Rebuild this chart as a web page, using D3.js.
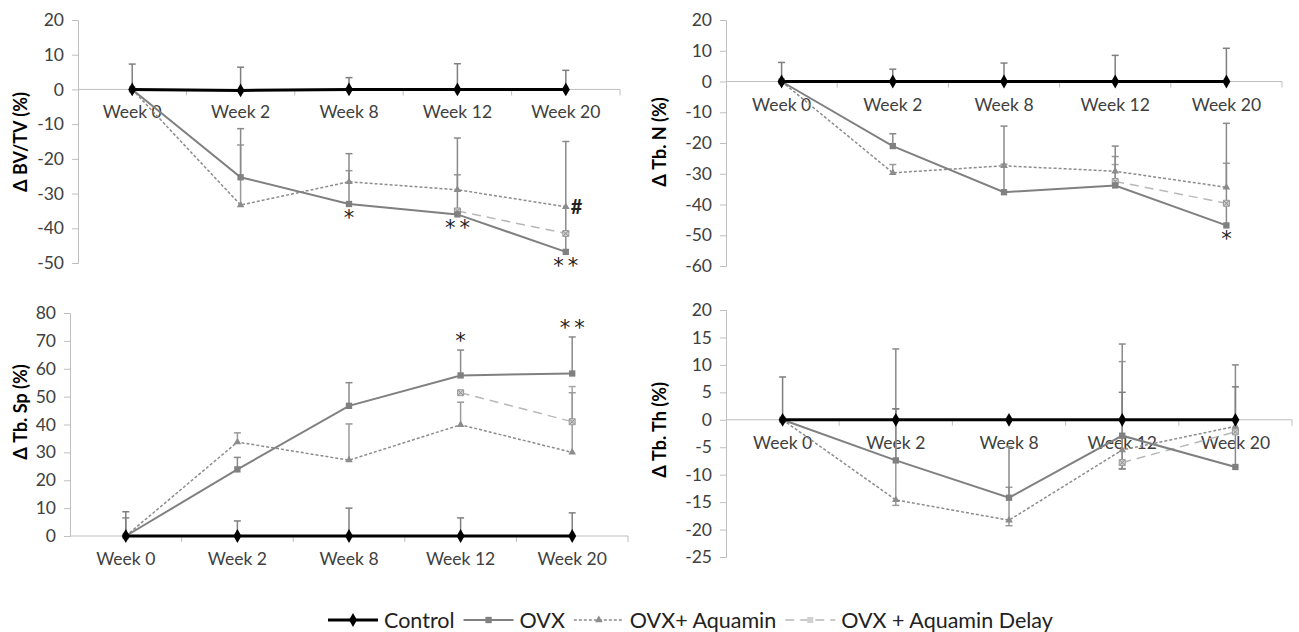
<!DOCTYPE html>
<html>
<head>
<meta charset="utf-8">
<script src="https://cdn.jsdelivr.net/npm/d3@7"></script>
<style>
body { margin: 0; background: #fff; }
text { font-family: Lato, "Liberation Sans", sans-serif; }
</style>
</head>
<body>
<svg id="chart" width="1299" height="632"></svg>
<script>
// categories
var weeks = ["Week 0", "Week 2", "Week 8", "Week 12", "Week 20"];

// Δ BV/TV (%)
var bvControl = [0, -0.3, 0, 0, 0];
var bvControlErr = [7.3, 6.7, 3.4, 7.4, 5.5];
var bvOvx = [0, -25.3, -33, -36, -46.8];
var bvOvxErr = [0, 14, 14.5, 22, 31.8];
var bvAqu = [0, -33.3, -26.6, -28.9, -33.8];
var bvAquErr = [0, 17.3, 3.2, 4.3, 0];
var bvDelay = [null, null, null, -35, -41.5];
var bvDelayErr = [0, 0, 0, 0.5, 0.5];

// Δ Tb. N (%)
var nControl = [0, 0, 0, 0, 0];
var nControlErr = [6.2, 4, 6, 8.5, 10.8];
var nOvx = [0, -21, -36, -33.8, -46.8];
var nOvxErr = [0, 4, 21.5, 12.8, 33.2];
var nAqu = [0, -29.7, -27.4, -29.2, -34.4];
var nAquErr = [0, 2.7, 0.5, 4.8, 7.8];
var nDelay = [null, null, null, -32.5, -39.6];
var nDelayErr = [0, 0, 0, 5.5, 0.5];

// Δ Tb. Sp (%)
var spControl = [0, 0, 0, 0, 0];
var spControlErr = [8.7, 5.4, 10, 6.5, 8.3];
var spOvx = [0, 23.9, 46.7, 57.6, 58.3];
var spOvxErr = [6.5, 4.3, 8.3, 9.1, 13.1];
var spAqu = [0, 33.7, 27.2, 39.9, 30];
var spAquErr = [0, 3.3, 13, 8.1, 21.4];
var spDelay = [null, null, null, 51.4, 41];
var spDelayErr = [0, 0, 0, 0.5, 12.6];

// Δ Tb. Th (%)
var thControl = [0, 0, 0, 0, 0];
var thControlErr = [7.8, 2, 0, 5, 6];
var thOvx = [0, -7.4, -14.2, -2.9, -8.6];
var thOvxErr = [0, 20.3, 9.3, 16.7, 18.6];
var thOvxLow = [0, 0, 0, 6, 0];
var thAqu = [0, -14.6, -18.3, -5.5, -1.2];
var thAquErr = [0, 16.6, 6, 16.1, 0];
var thAquLow = [0, 1, 1, 3.5, 1];
var thDelay = [null, null, null, -7.8, -2.2];
var thDelayErr = [0, 0, 0, 0, 0.5];

// significance marks: [week, text, value, placement]
var bvMarks = [["Week 8", "*", -33, "below"], ["Week 12", "**", -36, "below"],
               ["Week 20", "**", -46.8, "below"], ["Week 20", "#", -33.8, "right"]];
var nMarks = [["Week 20", "*", -46.8, "below"]];
var spMarks = [["Week 12", "*", 66.7, "above"], ["Week 20", "**", 71.4, "above"]];
var thMarks = [];

var groups = ["Control", "OVX", "OVX+ Aquamin", "OVX + Aquamin Delay"];

var styles = {
    "Control": {color: "#000", width: 3, dash: null, sym: d3.symbolDiamond, size: 55, err: "#7f7f7f"},
    "OVX": {color: "#808080", width: 2, dash: null, sym: d3.symbolSquare, size: 40, err: "#8a8a8a"},
    "OVX+ Aquamin": {color: "#8c8c8c", width: 1.5, dash: "3,2", sym: d3.symbolTriangle, size: 25, err: "#9a9a9a"},
    "OVX + Aquamin Delay": {color: "#b8b8b8", width: 1.5, dash: "9,6", sym: d3.symbolSquare, size: 36, err: "#a8a8a8"}
};

var svg = d3.select("#chart");

function panel(cfg) {
    var x = d3.scaleBand().domain(weeks).range([cfg.x0, cfg.x1]);
    var y = d3.scaleLinear().domain(cfg.domain).range([cfg.yb, cfg.yt]);
    var g = svg.append("g");

    // y axis
    var yAxis = g.append("g")
        .attr("transform", "translate(" + cfg.x0 + ",0)")
        .call(d3.axisLeft(y)
            .tickValues(d3.range(cfg.domain[0], cfg.domain[1] + 0.1, cfg.step))
            .tickFormat(function(d) { return String(d); })
            .tickSize(6).tickPadding(8));
    yAxis.select(".domain").attr("stroke", "#bfbfbf");
    yAxis.selectAll(".tick line").attr("stroke", "#bfbfbf");
    yAxis.selectAll("text").attr("fill", "#404040").style("font-size", "17.5px");

    // x axis at zero
    var y0 = y(0);
    g.append("line").attr("x1", cfg.x0).attr("x2", cfg.x1).attr("y1", y0).attr("y2", y0)
        .attr("stroke", "#bfbfbf");
    var bounds = weeks.map(function(w) { return x(w); }).concat([cfg.x1]).slice(1);
    g.selectAll(".xtick").data(bounds).enter().append("line")
        .attr("x1", function(d) { return d; }).attr("x2", function(d) { return d; })
        .attr("y1", y0).attr("y2", y0 + 6).attr("stroke", "#bfbfbf");
    g.selectAll(".xlab").data(weeks).enter().append("text")
        .attr("x", function(d) { return x(d) + x.bandwidth() / 2; })
        .attr("y", y0 + 29)
        .attr("text-anchor", "middle")
        .attr("fill", "#404040")
        .style("font-size", "17.5px")
        .text(function(d) { return d; });

    // y title
    g.append("text")
        .attr("transform", "translate(" + cfg.tx + "," + cfg.ty + ") rotate(-90)")
        .attr("text-anchor", "middle")
        .style("font-size", "18px").style("font-weight", "bold")
        .text(cfg.title);

    var cx = function(i) { return x(weeks[i]) + x.bandwidth() / 2; };
    var order = ["OVX + Aquamin Delay", "OVX+ Aquamin", "OVX", "Control"];

    // error bars first
    order.forEach(function(name) {
        var s = cfg.series[name], st = styles[name];
        s.vals.forEach(function(v, i) {
            if (v === null) return;
            var hi = s.err[i] || 0, lo = s.low ? s.low[i] : 0;
            if (!hi && !lo) return;
            g.append("line").attr("x1", cx(i)).attr("x2", cx(i)).attr("y1", y(v + hi)).attr("y2", y(v - lo))
                .attr("stroke", st.err).attr("stroke-width", 1.5);
            [hi ? v + hi : null, lo ? v - lo : null].forEach(function(e) {
                if (e === null) return;
                g.append("line").attr("x1", cx(i) - 3.5).attr("x2", cx(i) + 3.5)
                    .attr("y1", y(e)).attr("y2", y(e))
                    .attr("stroke", st.err).attr("stroke-width", 1.5);
            });
        });
    });

    order.forEach(function(name) {
        var s = cfg.series[name], st = styles[name];
        var pts = s.vals.map(function(v, i) { return [i, v]; }).filter(function(p) { return p[1] !== null; });
        var line = d3.line().x(function(p) { return cx(p[0]); }).y(function(p) { return y(p[1]); });
        g.append("path").datum(pts).attr("d", line)
            .attr("fill", "none").attr("stroke", st.color).attr("stroke-width", st.width)
            .attr("stroke-dasharray", st.dash);
        g.selectAll(null).data(pts).enter().append("path")
            .attr("transform", function(p) { return "translate(" + cx(p[0]) + "," + y(p[1]) + ")"; })
            .attr("d", d3.symbol().type(st.sym).size(st.size))
            .attr("fill", name === "OVX + Aquamin Delay" ? "#d0d0d0" : st.color)
            .attr("stroke", name === "OVX + Aquamin Delay" ? "#9a9a9a" : "none");
        if (name === "OVX + Aquamin Delay") {
            g.selectAll(null).data(pts).enter().append("path")
                .attr("transform", function(p) { return "translate(" + cx(p[0]) + "," + y(p[1]) + ")"; })
                .attr("d", d3.symbol().type(d3.symbolX).size(18))
                .attr("fill", "none").attr("stroke", "#8a8a8a").attr("stroke-width", 1);
        }
    });

    // significance marks
    cfg.marks.forEach(function(m) {
        var i = weeks.indexOf(m[0]);
        var px = cx(i), py = y(m[2]);
        var t = g.append("text").attr("fill", "#222").text(m[1]);
        if (m[1] === "#") {
            t.attr("x", px + 5).attr("y", py + 7).attr("text-anchor", "start")
                .style("font-size", "20px").style("font-weight", "bold");
            return;
        }
        t.style("font-family", "'DejaVu Sans', sans-serif").style("font-size", "21px")
            .attr("text-anchor", "middle").attr("x", px + (m[1].length > 1 ? 2 : 0))
            .style("letter-spacing", m[1].length > 1 ? "4px" : "0px");
        if (m[3] === "below") t.attr("y", py + 21);
        else t.attr("y", py - 2);
    });
}

function ser(c, ce, o, oe, a, ae, d, de, ol, al) {
    var r = {};
    r["Control"] = {vals: c, err: ce};
    r["OVX"] = {vals: o, err: oe, low: ol};
    r["OVX+ Aquamin"] = {vals: a, err: ae, low: al};
    r["OVX + Aquamin Delay"] = {vals: d, err: de};
    return r;
}

panel({x0: 78, x1: 620, yt: 20, yb: 263, domain: [-50, 20], step: 10, title: "Δ BV/TV (%)", tx: 27, ty: 142,
    series: ser(bvControl, bvControlErr, bvOvx, bvOvxErr, bvAqu, bvAquErr, bvDelay, bvDelayErr), marks: bvMarks});
panel({x0: 726, x1: 1282, yt: 20, yb: 266, domain: [-60, 20], step: 10, title: "Δ Tb. N (%)", tx: 666, ty: 142,
    series: ser(nControl, nControlErr, nOvx, nOvxErr, nAqu, nAquErr, nDelay, nDelayErr), marks: nMarks});
panel({x0: 70, x1: 628, yt: 313, yb: 536, domain: [0, 80], step: 10, title: "Δ Tb. Sp (%)", tx: 27, ty: 412,
    series: ser(spControl, spControlErr, spOvx, spOvxErr, spAqu, spAquErr, spDelay, spDelayErr), marks: spMarks});
panel({x0: 726, x1: 1292, yt: 310, yb: 557, domain: [-25, 20], step: 5, title: "Δ Tb. Th (%)", tx: 666, ty: 430,
    series: ser(thControl, thControlErr, thOvx, thOvxErr, thAqu, thAquErr, thDelay, thDelayErr, thOvxLow, thAquLow), marks: thMarks});

// legend
var legend = svg.append("g").attr("transform", "translate(0,620)");
var lx = 328;
groups.forEach(function(name) {
    var st = styles[name];
    var item = legend.append("g");
    item.append("line").attr("x1", lx).attr("x2", lx + 50).attr("y1", 0).attr("y2", 0)
        .attr("stroke", st.color).attr("stroke-width", st.width).attr("stroke-dasharray", st.dash);
    item.append("path").attr("transform", "translate(" + (lx + 25) + ",0)")
        .attr("d", d3.symbol().type(st.sym).size(st.size))
        .attr("fill", name === "OVX + Aquamin Delay" ? "#d0d0d0" : st.color);
    var t = item.append("text").attr("x", lx + 56).attr("y", 7.5)
        .style("font-size", "21.5px").attr("fill", "#222").text(name);
    lx += 56 + t.node().getComputedTextLength() + 9;
});
</script>
</body>
</html>
